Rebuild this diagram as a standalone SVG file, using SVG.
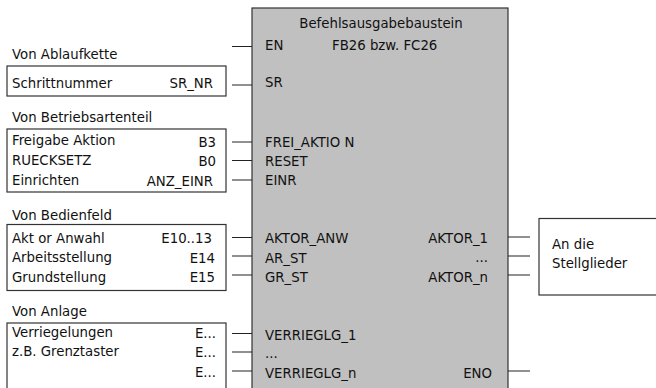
<svg xmlns="http://www.w3.org/2000/svg" width="656" height="388" viewBox="0 0 656 388">
<style>
text{font-family:"DejaVu Sans","Verdana",sans-serif;font-size:13.3px;fill:#111}
.e{text-anchor:end}
.m{text-anchor:middle}
.box{fill:#fff;stroke:#333;stroke-width:1.2}
.blk{fill:#c0c0c0;stroke:#333;stroke-width:1.2}
.ln{stroke:#222;stroke-width:1.2;fill:none}
</style>
<rect width="656" height="388" fill="#fff"/>
<g id="block">
<rect class="blk" x="252" y="8" width="256" height="390"/>
<text class="m" x="381" y="28">Befehlsausgabebaustein</text>
<text x="265" y="50">EN</text>
<text x="332" y="50">FB26 bzw. FC26</text>
<text x="265" y="87">SR</text>
<text x="265" y="146.5">FREI_AKTIO N</text>
<text x="265" y="165.5">RESET</text>
<text x="265" y="185">EINR</text>
<text x="265" y="243">AKTOR_ANW</text>
<text x="265" y="262.5">AR_ST</text>
<text x="265" y="281.5">GR_ST</text>
<text class="e" x="488" y="243">AKTOR_1</text>
<text class="e" x="488" y="261.5">...</text>
<text class="e" x="488" y="281.5">AKTOR_n</text>
<text x="265" y="340">VERRIEGLG_1</text>
<text x="265" y="358">...</text>
<text x="265" y="378">VERRIEGLG_n</text>
<text class="e" x="492" y="378">ENO</text>
</g>
<g id="ablaufkette">
<text x="12" y="58.5">Von Ablaufkette</text>
<rect class="box" x="7" y="66" width="219" height="30"/>
<text x="12" y="87.5">Schrittnummer</text>
<text class="e" x="213" y="87.5">SR_NR</text>
</g>
<g id="betriebsartenteil">
<text x="12" y="122">Von Betriebsartenteil</text>
<rect class="box" x="7" y="129" width="219" height="63"/>
<text x="12" y="145">Freigabe Aktion</text>
<text class="e" x="216" y="146.5">B3</text>
<text x="12" y="165">RUECKSETZ</text>
<text class="e" x="216" y="166">B0</text>
<text x="12" y="185">Einrichten</text>
<text class="e" x="213" y="185.5">ANZ_EINR</text>
</g>
<g id="bedienfeld">
<text x="12" y="220">Von Bedienfeld</text>
<rect class="box" x="7" y="224.5" width="219" height="66"/>
<text x="12" y="242.5">Akt or Anwahl</text>
<text class="e" x="212" y="243">E10..13</text>
<text x="12" y="262">Arbeitsstellung</text>
<text class="e" x="215" y="262.5">E14</text>
<text x="12" y="281.5">Grundstellung</text>
<text class="e" x="215" y="282">E15</text>
</g>
<g id="anlage">
<text x="12" y="316">Von Anlage</text>
<rect class="box" x="7" y="323" width="219" height="80"/>
<text x="12" y="337">Verriegelungen</text>
<text class="e" x="216" y="338">E...</text>
<text x="12" y="355.5">z.B. Grenztaster</text>
<text class="e" x="216" y="357">E...</text>
<text class="e" x="216" y="376.5">E...</text>
</g>
<g id="stellglieder">
<rect class="box" x="539" y="218.5" width="120" height="76.5"/>
<text x="552" y="249">An die</text>
<text x="552" y="268">Stellglieder</text>
</g>
<g id="connectors">
<path class="ln" d="M232 46.5H252M232 85H252M232 142H252M232 160.5H252M232 180H252M232 237.5H252M232 256H252M232 275H252M232 333.5H252M232 352H252M232 371H252M508 237H530M508 256H530M508 275H530M508 371H530"/>
</g>
</svg>
